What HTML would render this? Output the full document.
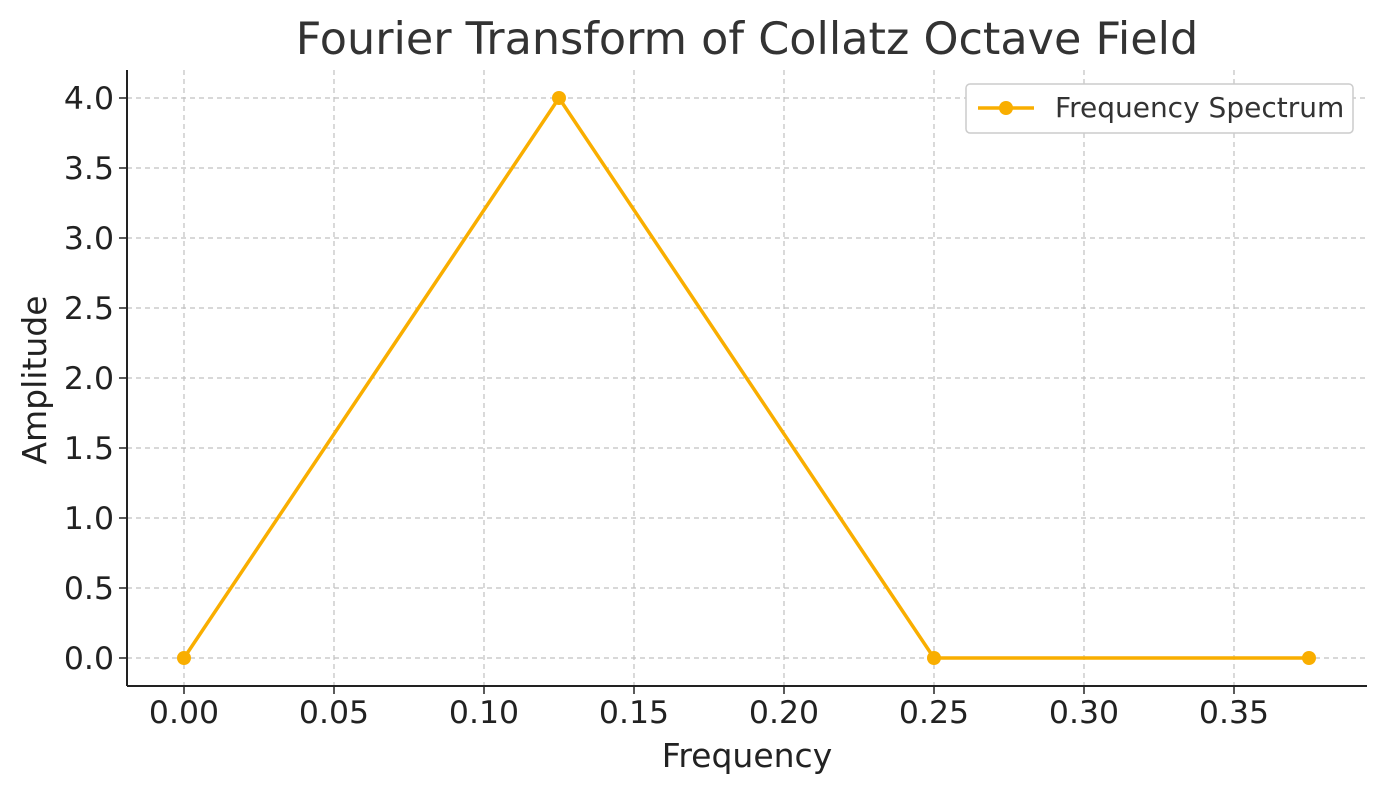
<!DOCTYPE html>
<html><head><meta charset="utf-8">
<style>
html,body{margin:0;padding:0;background:#fff;}
svg{display:block;font-family:"DejaVu Sans","Liberation Sans",sans-serif;}
</style></head>
<body>
<svg id="chart" width="1387" height="793" viewBox="0 0 1387 793">
  <text x="747" y="54" font-size="44.5" fill="#333" text-anchor="middle">Fourier Transform of Collatz Octave Field</text>
  <g id="grid"></g>
  <g id="xticks"></g>
  <g id="yticks"></g>
  <line x1="127" y1="70" x2="127" y2="686" stroke="#222" stroke-width="2"/>
  <line x1="127" y1="686" x2="1367" y2="686" stroke="#222" stroke-width="2"/>
  <g id="series"></g>
  <text x="747" y="767" font-size="33" fill="#222" text-anchor="middle">Frequency</text>
  <text transform="translate(46,380) rotate(-90)" font-size="33" fill="#222" text-anchor="middle">Amplitude</text>
  <g>
    <rect x="966" y="84" width="387" height="49" rx="4" fill="#fff" stroke="#ccc" stroke-width="1.5"/>
    <line x1="978" y1="108" x2="1034" y2="108" stroke="#F9AE00" stroke-width="3.5"/>
    <circle cx="1006" cy="108" r="7" fill="#F9AE00"/>
    <text x="1055" y="117" font-size="28" fill="#333">Frequency Spectrum</text>
  </g>
</svg>
<script>
const xVals = [0, 0.125, 0.25, 0.375];
const yVals = [0, 4.0, 0, 0];
const xTicks = [0, 0.05, 0.10, 0.15, 0.20, 0.25, 0.30, 0.35];
const xTickLabels = ["0.00","0.05","0.10","0.15","0.20","0.25","0.30","0.35"];
const yTicks = [0, 0.5, 1.0, 1.5, 2.0, 2.5, 3.0, 3.5, 4.0];
const yTickLabels = ["0.0","0.5","1.0","1.5","2.0","2.5","3.0","3.5","4.0"];

const NS = "http://www.w3.org/2000/svg";
function xs(v){ return 184 + v * 3000; }
function ys(v){ return 658 - v * 140; }
function mk(tag, attrs, parent){
  const e = document.createElementNS(NS, tag);
  for (const k in attrs) e.setAttribute(k, attrs[k]);
  parent.appendChild(e);
  return e;
}
const grid = document.getElementById('grid');
const xt = document.getElementById('xticks');
const yt = document.getElementById('yticks');
const series = document.getElementById('series');

xTicks.forEach((t, i) => {
  const x = xs(t);
  const g = mk('line', {x1:x, y1:70, x2:x, y2:686, stroke:'#c0c0c0', 'stroke-width':1.2, 'stroke-dasharray':'5,4'}, grid);
  
  
  const tk = mk('line', {x1:x, y1:686, x2:x, y2:694, stroke:'#222', 'stroke-width':1.5}, xt);
  
  
  const tx = mk('text', {x:x, y:723, 'font-size':31.5, fill:'#222', 'text-anchor':'middle'}, xt);
  tx.textContent = xTickLabels[i];
  
  
});
yTicks.forEach((t, i) => {
  const y = ys(t);
  const g = mk('line', {x1:127, y1:y, x2:1367, y2:y, stroke:'#c0c0c0', 'stroke-width':1.2, 'stroke-dasharray':'5,4'}, grid);
  
  
  const tk = mk('line', {x1:119, y1:y, x2:127, y2:y, stroke:'#222', 'stroke-width':1.5}, yt);
  
  
  const tx = mk('text', {x:114, y:y+11, 'font-size':31.5, fill:'#222', 'text-anchor':'end'}, yt);
  tx.textContent = yTickLabels[i];
  
  
});
const pts = xVals.map((v, i) => xs(v) + ',' + ys(yVals[i])).join(' ');
const pl = mk('polyline', {points:pts, fill:'none', stroke:'#F9AE00', 'stroke-width':3.5, 'stroke-linejoin':'round'}, series);


xVals.forEach((v, i) => {
  const c = mk('circle', {cx:xs(v), cy:ys(yVals[i]), r:7, fill:'#F9AE00'}, series);
  
  
});
</script>
</body></html>
